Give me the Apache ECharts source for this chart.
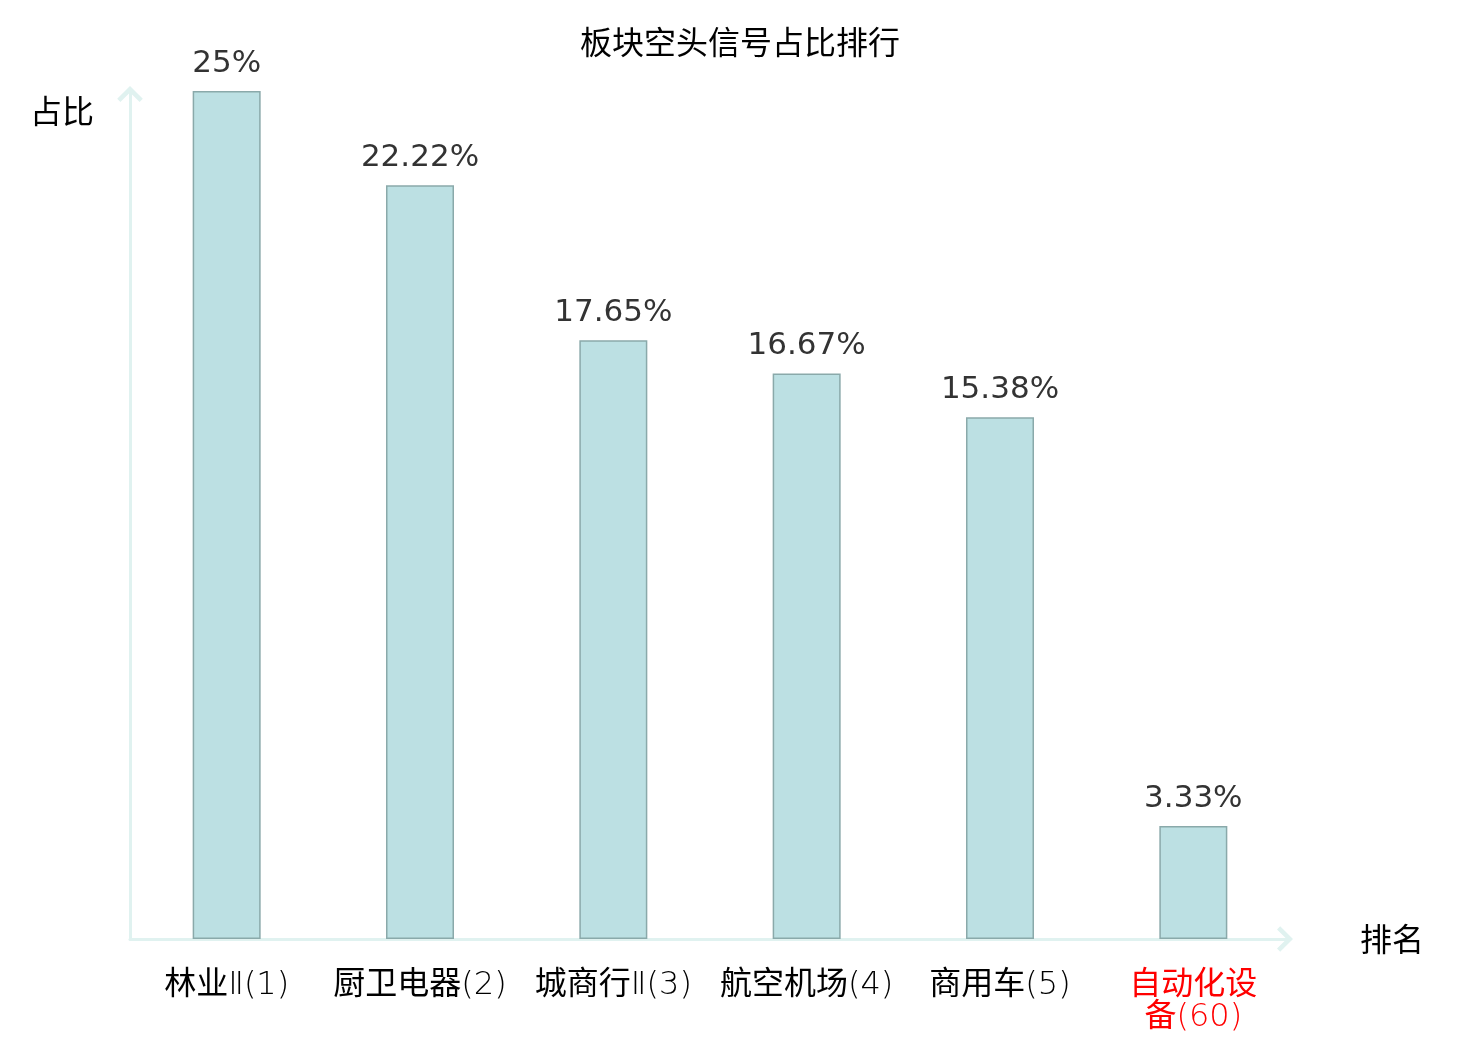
<!DOCTYPE html>
<html>
<head>
<meta charset="utf-8">
<style>
  html, body { margin: 0; padding: 0; background: #fff; }
  #main { width: 1480px; height: 1040px; }
</style>
<script src="https://cdn.jsdelivr.net/npm/echarts@6/dist/echarts.min.js"></script>
</head>
<body>
<div id="main"></div>
<script>
var chartDom = document.getElementById('main');
var myChart = echarts.init(chartDom);
var option;

// 板块名称、排名和空头信号占比(%)
const names = ['林业Ⅱ', '厨卫电器', '城商行Ⅱ', '航空机场', '商用车', '自动化设备'];
const ranks = [1, 2, 3, 4, 5, 60];
const ratios = [25, 22.22, 17.65, 16.67, 15.38, 3.33];

const categories = names.map(function (n, i) {
  return n + '(' + ranks[i] + ')';
});

// 开口箭头
const arrow = 'path://M12,0 L24,12 L21,15 L12,6 L3,15 L0,12 Z';

// 汉字用常规字重，其余字符用细体
function richLine(s) {
  return s.replace(/([\u4e00-\u9fff]+)|([^\u4e00-\u9fff]+)/g, function (m, cjk) {
    return cjk ? '{c|' + m + '}' : '{l|' + m + '}';
  });
}

option = {
  backgroundColor: '#fff',
  title: {
    text: '板块空头信号占比排行',
    left: 'center',
    top: 21,
    textStyle: {
      fontFamily: 'Noto Sans CJK SC',
      fontSize: 32,
      fontWeight: 'normal',
      color: '#000'
    }
  },
  grid: {
    left: 130,
    right: 190,
    top: 91,
    bottom: 101
  },
  xAxis: {
    type: 'category',
    data: categories,
    name: '排名',
    nameLocation: 'end',
    nameGap: 70,
    nameTextStyle: {
      fontFamily: 'Noto Sans CJK SC',
      fontSize: 32,
      color: '#000',
      verticalAlign: 'middle',
      padding: [6, 0, 0, 0]
    },
    axisLine: {
      lineStyle: { color: '#e0f2f0', width: 3 },
      symbol: ['none', arrow],
      symbolSize: [26, 16],
      symbolOffset: [0, -5]
    },
    axisTick: { show: false },
    axisLabel: {
      margin: 27,
      interval: 0,
      fontSize: 32,
      lineHeight: 32,
      color: function (value, index) {
        return index === categories.length - 1 ? '#ff0000' : '#000';
      },
      formatter: function (value, index) {
        var n = names[index];
        var tail = '(' + ranks[index] + ')';
        if (n.length > 4) {
          return richLine(n.slice(0, 4)) + '\n' + richLine(n.slice(4) + tail);
        }
        return richLine(n + tail);
      },
      rich: {
        c: {
          fontFamily: 'Noto Sans CJK SC',
          fontWeight: 'normal',
          fontSize: 32,
          lineHeight: 32
        },
        l: {
          fontFamily: 'DejaVu Sans',
          fontWeight: 200,
          fontSize: 32,
          lineHeight: 32,
          padding: [8, 0, 0, 0]
        }
      }
    }
  },
  yAxis: {
    type: 'value',
    min: 0,
    max: Math.max.apply(null, ratios),
    name: '占比',
    nameLocation: 'end',
    nameGap: -20,
    nameTextStyle: {
      fontFamily: 'Noto Sans CJK SC',
      fontSize: 32,
      color: '#000',
      align: 'right',
      verticalAlign: 'middle',
      padding: [0, 36, 0, 0]
    },
    axisLine: {
      show: true,
      lineStyle: { color: '#e0f2f0', width: 3 },
      symbol: ['none', arrow],
      symbolSize: [26, 16],
      symbolOffset: [0, -3]
    },
    axisTick: { show: false },
    axisLabel: { show: false },
    splitLine: { show: false }
  },
  series: [
    {
      type: 'bar',
      data: ratios,
      barWidth: 68,
      itemStyle: {
        color: '#bce0e3',
        borderColor: '#8aa9aa',
        borderWidth: 1.5
      },
      label: {
        show: true,
        position: 'top',
        distance: 12,
        fontFamily: 'DejaVu Sans',
        fontSize: 31,
        color: '#333',
        formatter: function (p) {
          return p.value + '%';
        }
      }
    }
  ]
};

option && myChart.setOption(option);
</script>
</body>
</html>
